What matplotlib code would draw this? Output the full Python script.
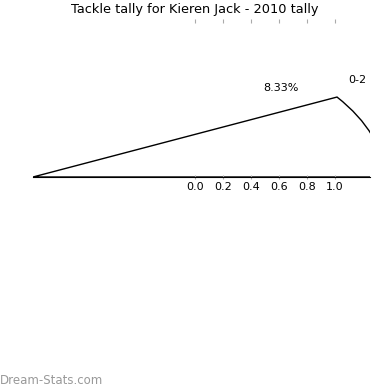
import matplotlib
matplotlib.use("Agg")
import matplotlib.pyplot as plt

labels = ["0-2"]
values = [8.33]
pct_labels = ["8.33%"]
xticks = [0.0, 0.2, 0.4, 0.6, 0.8, 1.0]

fig = plt.figure(figsize=(3.9, 3.9), dpi=100)
ax = fig.add_axes([33/390, 1-177/390, (370-33)/390, (177-21)/390])
xlim = (-1.157, 1.25)
ylim = (0, 2.445)
center = (xlim[0], 0)
radius = 2.507
wedges, _ = ax.pie([v/100 for v in values], normalize=False, center=center, radius=radius,
                   startangle=0, counterclock=True, colors=["white"],
                   wedgeprops=dict(edgecolor="black", linewidth=1.0), frame=True)
for w in wedges:
    w.set_clip_on(True)
    w.set_clip_path(ax.patch)
ax.set_aspect("auto")
ax.set_xlim(*xlim)
ax.set_ylim(*ylim)
ax.text(0.614, 1.395, pct_labels[0], ha="center", va="center", fontsize=8)
ax.text(1.157, 1.52, labels[0], ha="center", va="center", fontsize=8)

for s in ["top", "left", "right"]:
    ax.spines[s].set_visible(False)
ax.spines["bottom"].set_color("black")
ax.spines["bottom"].set_linewidth(0.8)
ax.set_xticks(xticks)
ax.set_xticklabels([f"{t:.1f}" for t in xticks])
ax.set_yticks([])
ax.tick_params(axis="x", top=True, bottom=True, color="#aaaaaa", length=3,
               direction="inout", labelsize=8, pad=2)
fig.suptitle("Tackle tally for Kieren Jack - 2010 tally", y=0.992, fontsize=9.3)
fig.text(0.0, 0.008, "Dream-Stats.com", color="#999999", fontsize=8.5, ha="left", va="bottom")
fig.savefig("out.png", dpi=100)
